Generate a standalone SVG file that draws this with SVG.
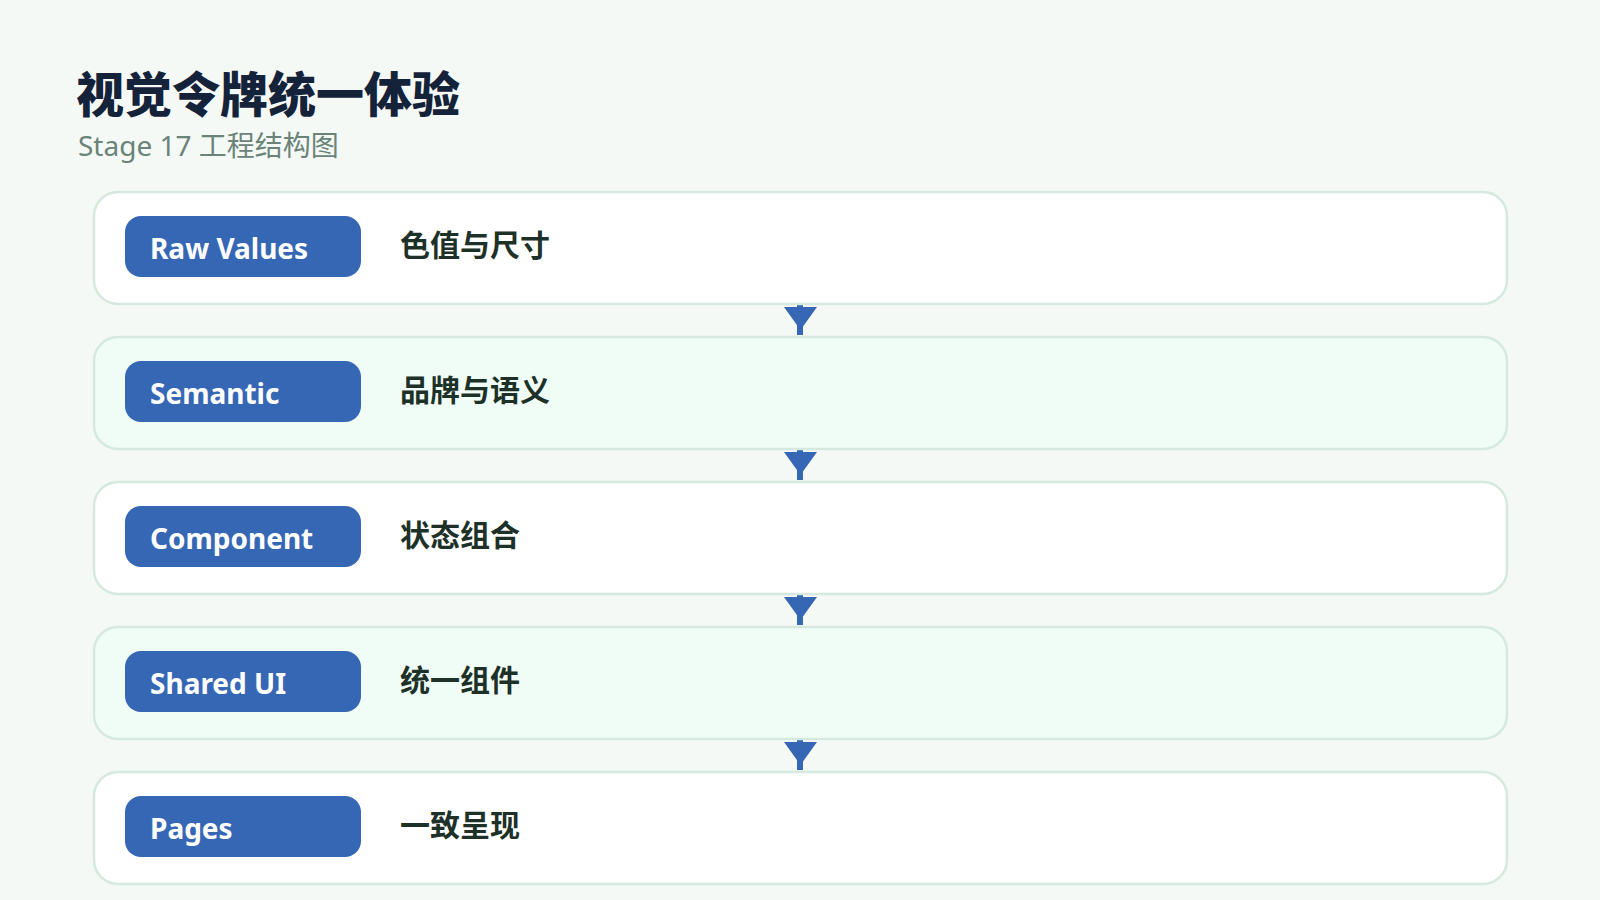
<svg xmlns="http://www.w3.org/2000/svg" width="1600" height="900" viewBox="0 0 1600 900">
<defs>
<style>
.bg{fill:#f4f9f6}
.card{stroke:#d5e9de;stroke-width:2.5}
.c1{fill:#ffffff}
.c2{fill:#effdf6}
.pill{fill:#3667b5}
.pt{font-family:"Noto Sans","Open Sans","Liberation Sans",sans-serif;font-weight:700;font-size:28px;fill:#ffffff}
.dt{font-family:"Noto Sans CJK SC","Noto Sans",sans-serif;font-weight:700;font-size:30px;fill:#1e3128}
.title{font-family:"Noto Sans CJK SC","Noto Sans",sans-serif;font-weight:900;font-size:48px;fill:#15233a}
.sub{font-family:"Noto Sans","Noto Sans CJK SC",sans-serif;font-weight:400;font-size:28px;fill:#6b8378}
.stem{stroke:#3667b5;stroke-width:6}
.head{fill:#3667b5}
</style>
</defs>
<rect class="bg" x="0" y="0" width="1600" height="900"/>
<g id="header">
<text class="title" x="76" y="112">视觉令牌统一体验</text>
<text class="sub" x="78" y="156">Stage 17 工程结构图</text>
</g>
<g id="connectors">
<line class="stem" x1="800" y1="305" x2="800" y2="335"/>
<polygon class="head" points="784,307 817,307 800.5,330"/>
<line class="stem" x1="800" y1="450" x2="800" y2="480"/>
<polygon class="head" points="784,452 817,452 800.5,475"/>
<line class="stem" x1="800" y1="595" x2="800" y2="625"/>
<polygon class="head" points="784,597 817,597 800.5,620"/>
<line class="stem" x1="800" y1="740" x2="800" y2="770"/>
<polygon class="head" points="784,742 817,742 800.5,765"/>
</g>
<g id="node-raw-values">
<rect class="card c1" x="94" y="192" width="1413" height="112" rx="24"/>
<rect class="pill" x="125" y="216" width="236" height="61" rx="16"/>
<text class="pt" x="150" y="259">Raw Values</text>
<text class="dt" x="400" y="256">色值与尺寸</text>
</g>
<g id="node-semantic">
<rect class="card c2" x="94" y="337" width="1413" height="112" rx="24"/>
<rect class="pill" x="125" y="361" width="236" height="61" rx="16"/>
<text class="pt" x="150" y="404">Semantic</text>
<text class="dt" x="400" y="401">品牌与语义</text>
</g>
<g id="node-component">
<rect class="card c1" x="94" y="482" width="1413" height="112" rx="24"/>
<rect class="pill" x="125" y="506" width="236" height="61" rx="16"/>
<text class="pt" x="150" y="549">Component</text>
<text class="dt" x="400" y="546">状态组合</text>
</g>
<g id="node-shared-ui">
<rect class="card c2" x="94" y="627" width="1413" height="112" rx="24"/>
<rect class="pill" x="125" y="651" width="236" height="61" rx="16"/>
<text class="pt" x="150" y="694">Shared UI</text>
<text class="dt" x="400" y="691">统一组件</text>
</g>
<g id="node-pages">
<rect class="card c1" x="94" y="772" width="1413" height="112" rx="24"/>
<rect class="pill" x="125" y="796" width="236" height="61" rx="16"/>
<text class="pt" x="150" y="839">Pages</text>
<text class="dt" x="400" y="836">一致呈现</text>
</g>
</svg>
